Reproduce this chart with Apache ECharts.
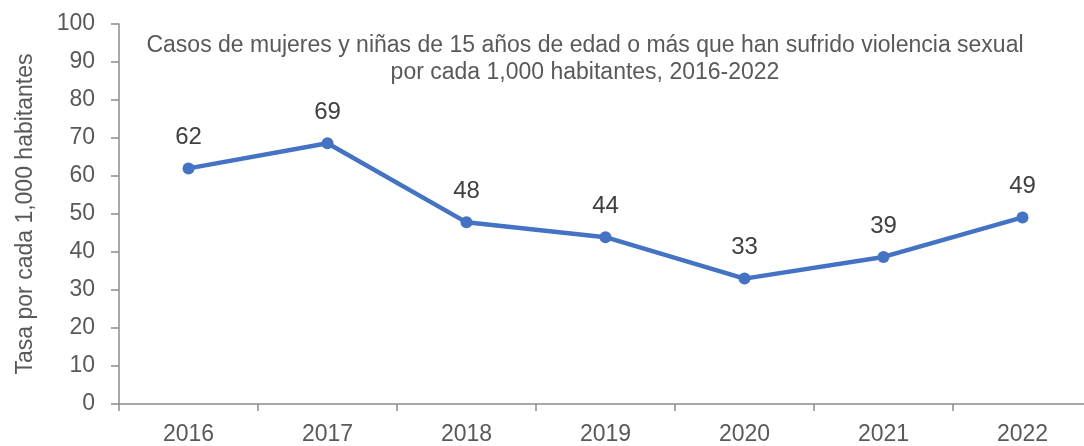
<!DOCTYPE html>
<html><head><meta charset="utf-8">
<script src="https://cdn.jsdelivr.net/npm/echarts@6/dist/echarts.min.js"></script>
<style>html,body{margin:0;padding:0;background:#fff;overflow:hidden;width:1084px;height:446px}#c{width:1092px;height:446px}</style>
</head><body><div id="c"></div>
<script>
const years = ['2016','2017','2018','2019','2020','2021','2022'];
const rates = [62.0, 68.6, 47.8, 43.9, 33.0, 38.7, 49.1];
const titleText = 'Casos de mujeres y niñas de 15 años de edad o más que han sufrido violencia sexual\npor cada 1,000 habitantes, 2016-2022';
const yAxisName = 'Tasa por cada 1,000 habitantes';

const chart = echarts.init(document.getElementById('c'));
const grey = '#595959';
const ff = 'Liberation Sans';
chart.setOption({
  animation: false,
  title: {
    text: titleText, left: 580, top: 27, textAlign: 'center',
    textStyle: {fontFamily: ff, fontSize: 23, fontWeight: 'normal', color: grey, lineHeight: 27}
  },
  grid: {left: 119, right: 0, top: 24, bottom: 40},
  xAxis: {
    type: 'category', data: years, boundaryGap: true,
    axisLine: {lineStyle: {color: '#8c8c8c', width: 1.5}},
    axisTick: {show: true, length: 7, lineStyle: {color: '#8c8c8c', width: 1.5}},
    axisLabel: {color: grey, fontSize: 23, fontFamily: ff, margin: 19}
  },
  yAxis: {
    type: 'value', min: 0, max: 100, interval: 10,
    name: yAxisName, nameLocation: 'middle', nameGap: 82,
    nameTextStyle: {color: grey, fontSize: 23, fontFamily: ff},
    axisLine: {show: true, lineStyle: {color: '#8c8c8c', width: 1.5}},
    axisTick: {show: true, length: 8, lineStyle: {color: '#8c8c8c', width: 1.5}},
    axisLabel: {color: grey, fontSize: 23, fontFamily: ff, margin: 24},
    splitLine: {show: false}
  },
  series: [{
    type: 'line', data: rates,
    lineStyle: {color: '#4472C4', width: 4.5},
    itemStyle: {color: '#4472C4'},
    symbol: 'circle', symbolSize: 12,
    label: {show: true, position: 'top', distance: 13, color: '#404040', fontSize: 24, fontFamily: ff,
      formatter: p => Math.round(p.value)}
  }]
});
</script></body></html>
